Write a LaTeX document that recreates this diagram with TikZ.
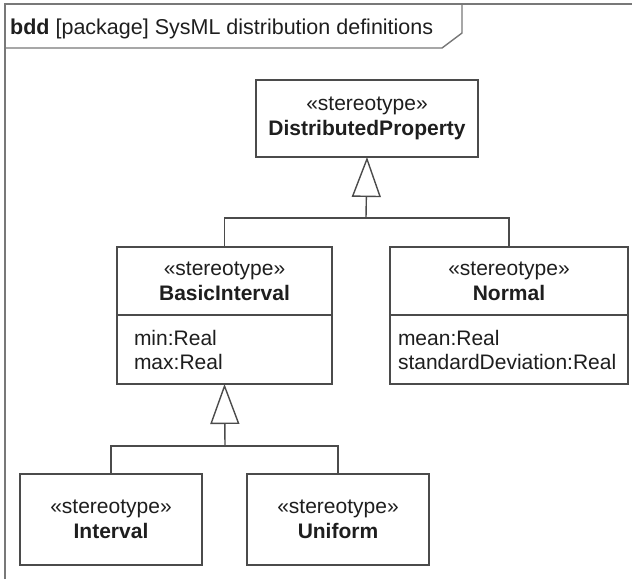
\documentclass[tikz,border=0pt]{standalone}
\usepackage{fontspec}
\setmainfont{Liberation Sans}
\usetikzlibrary{positioning,arrows.meta}

\definecolor{linegray}{RGB}{75,75,75}
\definecolor{framegray}{RGB}{120,120,120}
\definecolor{textgray}{RGB}{30,30,30}

\tikzset{
  classhead/.style={draw=linegray, line width=1.4pt, fill=white, align=center,
    outer sep=0pt, inner sep=0pt, text=textgray, font=\fontsize{21}{25}\selectfont},
  classattr/.style={draw=linegray, line width=1.4pt, fill=white, align=left,
    outer sep=0pt, inner ysep=0pt, text=textgray, font=\fontsize{21}{24}\selectfont},
  gen/.style={draw=linegray, line width=1.4pt,
    -{Triangle[open, length=40pt, width=29pt]}},
  tree/.style={draw=linegray, line width=1.4pt}
}

\begin{document}
\begin{tikzpicture}[x=1pt, y=-1pt]
  \useasboundingbox (0,0) rectangle (632,579);

  % diagram frame with its name tab
  \draw[framegray, line width=2.2pt] (5,579) -- (5,4) -- (632,4);
  \draw[framegray, line width=1.4pt] (5,48) -- (442,48) -- (462,33) -- (462,4);
  \node[anchor=base west, text=textgray, inner sep=0pt, font=\fontsize{21.5}{25}\selectfont]
    (title) at (10,34) {\textbf{bdd} [package] SysML distribution definitions};

  % top stereotype
  \node[classhead, minimum width=222pt, minimum height=77pt] (distprop) at (367,118.5)
    {«stereotype»\\\textbf{DistributedProperty}};

  % second level
  \node[classhead, minimum width=215pt, minimum height=68pt] (basichead) at (224.5,281)
    {«stereotype»\\\textbf{BasicInterval}};
  \node[classattr, below=0pt of basichead, minimum height=69pt,
    text width=181pt, inner xsep=17pt] (basicattr) {min:Real\\max:Real};

  \node[classhead, minimum width=238pt, minimum height=68pt] (normalhead) at (509,281)
    {«stereotype»\\\textbf{Normal}};
  \node[classattr, below=0pt of normalhead, minimum height=69pt,
    text width=222pt, inner xsep=8pt] (normalattr) {mean:Real\\standardDeviation:Real};

  % bottom level
  \node[classhead, minimum width=182pt, minimum height=91pt] (interval) at (111,519.5)
    {«stereotype»\\\textbf{Interval}};
  \node[classhead, minimum width=182pt, minimum height=91pt] (uniform) at (338,519.5)
    {«stereotype»\\\textbf{Uniform}};

  % generalizations
  \coordinate (join1) at (366,218);
  \draw[tree] (basichead.north) |- (join1) -| (normalhead.north);
  \draw[gen] (join1) -- (distprop.south);

  \coordinate (join2) at (225,446);
  \draw[tree] (interval.north) |- (join2) -| (uniform.north);
  \draw[gen] (join2) -- (basicattr.south);
\end{tikzpicture}
\end{document}
